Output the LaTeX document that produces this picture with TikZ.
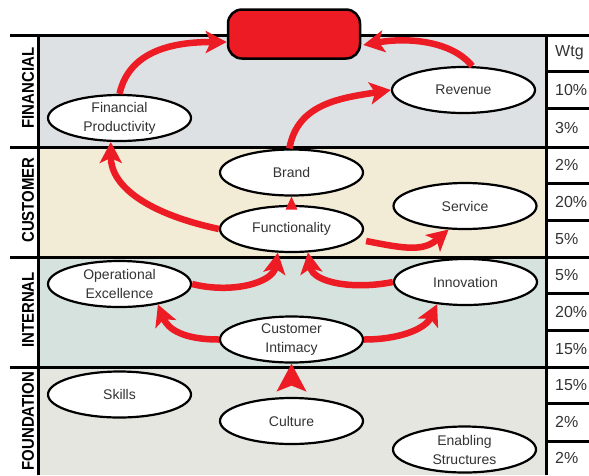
\documentclass[tikz,border=0pt]{standalone}
\usepackage{fontspec}
\setmainfont{Liberation Sans}
\usetikzlibrary{shapes.geometric,arrows.meta,calc}
\definecolor{kred}{HTML}{ED1C24}
\definecolor{finbg}{HTML}{DDE1E4}
\definecolor{cusbg}{HTML}{F2EBD5}
\definecolor{intbg}{HTML}{D6E2DE}
\definecolor{foubg}{HTML}{E5E6E0}
\definecolor{txt}{HTML}{333333}
\begin{document}
\begin{tikzpicture}[x=1pt,y=-1pt,
  goal/.style={ellipse,draw=black,line width=2.2pt,fill=white,minimum width=143pt,minimum height=46pt,inner sep=0pt,align=center,font=\fontsize{14}{19}\selectfont,text=txt},
  flow/.style={draw=kred,line width=6.5pt,-{Stealth[length=21pt,width=22pt,inset=5pt]}},
  bandlabel/.style={rotate=90,font=\fontsize{17}{17}\selectfont\bfseries,inner sep=0pt},
  wt/.style={anchor=west,font=\fontsize{16}{16}\selectfont,inner sep=0pt,text=txt},
  rule/.style={draw=black,line width=3pt}
]
\useasboundingbox (0,0) rectangle (589,475);
% bands
\fill[finbg] (38,35) rectangle (546,147);
\fill[cusbg] (38,147) rectangle (546,257);
\fill[intbg] (38,257) rectangle (546,367);
\fill[foubg] (38,367) rectangle (546,475);
% rules
\draw[rule] (10,35) -- (589,35);
\draw[rule] (10,147) -- (589,147);
\draw[rule] (10,257) -- (589,257);
\draw[rule] (10,367) -- (589,367);
\draw[rule] (38,35) -- (38,475);
\draw[rule] (546,35) -- (546,475);
\foreach \yy in {71,108,183,220,293,330,403,441}{\draw[rule] (546,\yy) -- (589,\yy);}
% band labels
\node[bandlabel] (lfin) at (28,88) {\scalebox{0.88}[1]{FINANCIAL}};
\node[bandlabel] (lcus) at (28,200) {\scalebox{0.88}[1]{CUSTOMER}};
\node[bandlabel] (lint) at (28,310) {\scalebox{0.88}[1]{INTERNAL}};
\node[bandlabel] (lfou) at (28,421) {\scalebox{0.88}[1]{FOUNDATION}};
% weights
\node[wt] (w0) at (555,53) {Wtg};
\node[wt] (w1) at (555,90) {10\%};
\node[wt] (w2) at (555,128) {3\%};
\node[wt] (w3) at (555,165) {2\%};
\node[wt] (w4) at (555,202) {20\%};
\node[wt] (w5) at (555,239) {5\%};
\node[wt] (w6) at (555,275) {5\%};
\node[wt] (w7) at (555,312) {20\%};
\node[wt] (w8) at (555,349) {15\%};
\node[wt] (w9) at (555,385) {15\%};
\node[wt] (w10) at (555,422) {2\%};
\node[wt] (w11) at (555,458) {2\%};
% goal box
\node[draw=black,line width=2.5pt,fill=kred,rounded corners=14pt,minimum width=132pt,minimum height=49pt] (box) at (294,34) {};
% ellipses
\node[goal] (fp) at (119.5,118) {Financial\\Productivity};
\node[goal] (rev) at (463.5,90) {Revenue};
\node[goal] (brand) at (291.5,172.5) {Brand};
\node[goal] (func) at (291.5,229) {Functionality};
\node[goal] (srv) at (465,206) {Service};
\node[goal] (oe) at (119.5,284) {Operational\\Excellence};
\node[goal] (inn) at (465.5,282) {Innovation};
\node[goal] (ci) at (291.5,339.5) {Customer\\Intimacy};
\node[goal] (sk) at (119.5,394.5) {Skills};
\node[goal] (cul) at (291.5,421) {Culture};
\node[goal] (es) at (464.5,449.5) {Enabling\\Structures};
% connectors
\coordinate (boxin) at ($(box.west)+(0,8)$);
\coordinate (boxin2) at ($(box.east)+(2,11)$);
\coordinate (funcout) at ($(func.east)+(2,12)$);
\draw[flow] (fp.north) .. controls +(10,-45) and +(-50,0) .. (boxin);
\draw[flow] (rev.70) .. controls +(-20,-25) and +(45,-8) .. (boxin2);
\draw[flow] (brand.95) .. controls +(8,-45) and +(-50,8) .. (rev.west);
\fill[kred] (brand.south) -- ++(-6,13) -- ++(12,0) -- cycle;
\draw[flow] (func.west) .. controls +(-70,-15) and +(0,45) .. (fp.250);
\draw[flow] (funcout) .. controls +(40,8) and +(-25,22) .. (srv.235);
\draw[flow] (oe.east) .. controls +(40,10) and +(-5,30) .. (func.240);
\draw[flow] (inn.west) .. controls +(-40,8) and +(5,30) .. (func.305);
\draw[flow] (ci.west) .. controls +(-35,0) and +(10,25) .. (oe.332);
\draw[flow] (ci.east) .. controls +(35,0) and +(-12,25) .. (inn.218);
\fill[kred] (ci.south) -- ++(-15,28) -- ++(15,-6) -- ++(15,6) -- cycle;
\end{tikzpicture}
\end{document}
